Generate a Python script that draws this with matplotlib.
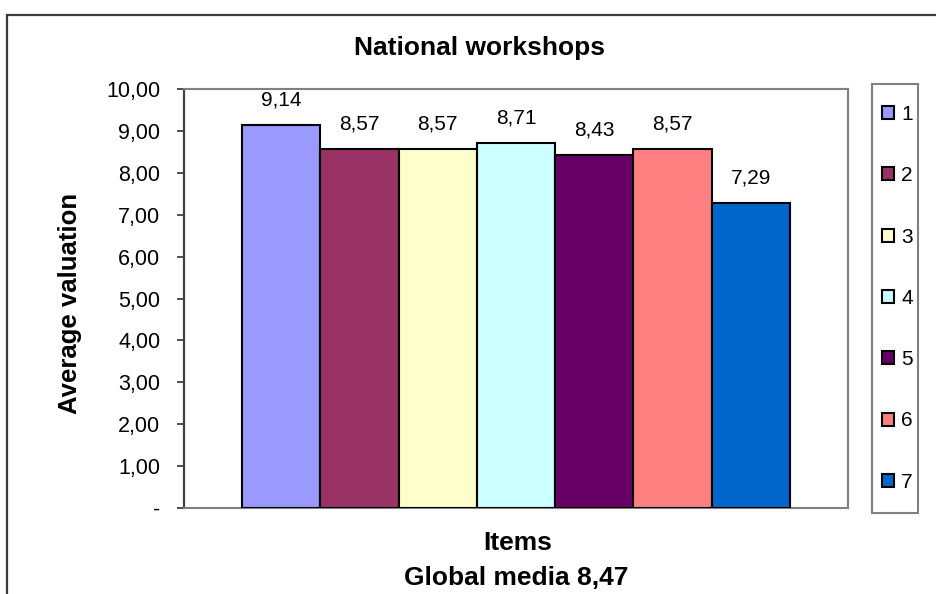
import matplotlib
matplotlib.use("Agg")
import matplotlib.pyplot as plt
from matplotlib.patches import Rectangle, Patch
from matplotlib.ticker import FixedLocator, FuncFormatter

plt.rcParams['font.family'] = ['Liberation Sans', 'DejaVu Sans']

# Data
items = ['1', '2', '3', '4', '5', '6', '7']
valuations = [9.14, 8.57, 8.57, 8.71, 8.43, 8.57, 7.29]
colors = ['#9999FF', '#993366', '#FFFFCC', '#CCFFFF', '#660066', '#FF8080', '#0066CC']
title = 'National workshops'
y_label = 'Average valuation'
x_label = 'Items'
global_media = 8.47
y_ticks = [0, 1, 2, 3, 4, 5, 6, 7, 8, 9, 10]

W, H = 936, 594
fig = plt.figure(figsize=(W / 100, H / 100), dpi=100)

# Chart frame (partially outside the canvas on the right and bottom)
fig.add_artist(Rectangle((7.5 / W, -0.2), 1.3, 1 - 15.5 / H + 0.2,
                         transform=fig.transFigure, fill=False,
                         edgecolor='#3a3a3a', linewidth=1.6))

ax = fig.add_axes([184 / W, 1 - 508 / H, (848 - 184) / W, (508 - 89) / H])

xs = list(range(len(items)))
bars = ax.bar(xs, valuations, width=1.0, color=colors,
              edgecolor='black', linewidth=1.5, label=items, zorder=3)

for x, v in zip(xs, valuations):
    ax.annotate(f'{v:.2f}'.replace('.', ','), xy=(x, v), xytext=(0, 18),
                textcoords='offset points', ha='center', va='center',
                fontsize=15, color='black')

gap = 58 / 78
ax.set_xlim(-0.5 - gap, len(items) - 0.5 + gap)
ax.set_ylim(0, 10)
ax.yaxis.set_major_locator(FixedLocator(y_ticks))
ax.yaxis.set_major_formatter(FuncFormatter(
    lambda v, p: '-' if v == 0 else f'{v:.2f}'.replace('.', ',')))
ax.tick_params(axis='y', direction='out', length=5, width=1.3,
               color='#404040', labelsize=15.5, pad=12)
ax.set_xticks([])

for side in ['top', 'right', 'bottom']:
    ax.spines[side].set_color('#808080')
    ax.spines[side].set_linewidth(1.5)
ax.spines['left'].set_color('#404040')
ax.spines['left'].set_linewidth(1.6)

# Legend box
fig.add_artist(Rectangle((872 / W, 1 - 513 / H), 46 / W, (513 - 84) / H,
                         transform=fig.transFigure, fill=False,
                         edgecolor='#808080', linewidth=1.5))
leg = ax.legend(handles=[Patch(facecolor=c, edgecolor='black', linewidth=1.5, label=l)
                         for c, l in zip(colors, items)],
                loc='upper left', bbox_to_anchor=(882 / W, 1 - 105 / H),
                bbox_transform=fig.transFigure, borderaxespad=0,
                fontsize=15, frameon=False,
                handlelength=0.58, handleheight=0.58, handletextpad=0.35,
                labelspacing=2.03, borderpad=0)

fig.text(480 / W, 1 - 48 / H, title, ha='center', va='center',
         fontsize=19, fontweight='bold')
fig.text(70 / W, 1 - 303 / H, y_label, ha='center', va='center',
         rotation=90, fontsize=18.5, fontweight='bold')
fig.text(518 / W, 1 - 543 / H, x_label, ha='center', va='center',
         fontsize=19, fontweight='bold')
fig.text(516 / W, 1 - 578 / H,
         'Global media ' + f'{global_media:.2f}'.replace('.', ','),
         ha='center', va='center', fontsize=19, fontweight='bold')

fig.savefig('out.png', dpi=100)
